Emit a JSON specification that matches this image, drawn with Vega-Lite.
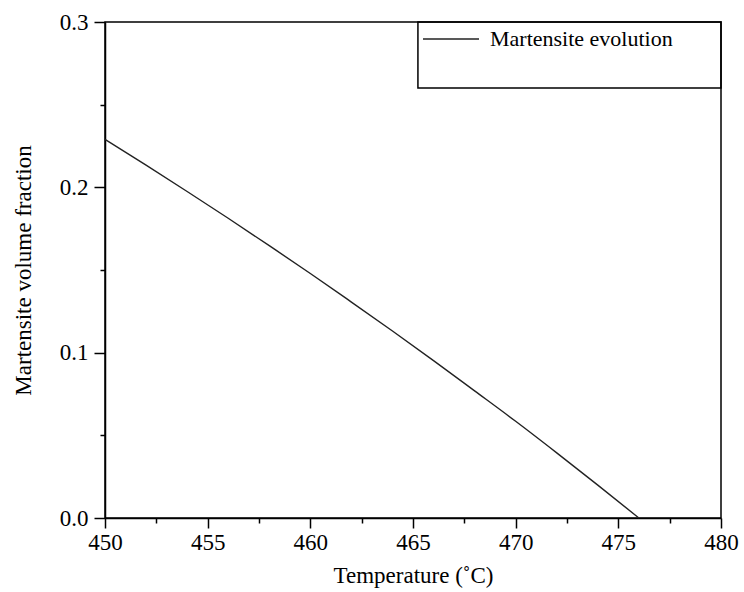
{
  "$schema": "https://vega.github.io/schema/vega-lite/v6.json",
  "width": 616,
  "height": 496,
  "autosize": {"type": "none"},
  "padding": {"left": 105, "top": 22, "right": 23, "bottom": 74},
  "background": "white",
  "config": {
    "view": {"stroke": "black", "strokeWidth": 1.5},
    "font": "Liberation Serif",
    "axis": {
      "grid": false,
      "ticks": true,
      "labelFlush": false,
      "domainColor": "black",
      "domainWidth": 1.5,
      "tickColor": "black",
      "tickWidth": 1.5,
      "labelColor": "black",
      "titleColor": "black",
      "labelFont": "Liberation Serif",
      "titleFont": "Liberation Serif",
      "labelFontSize": 23,
      "titleFontSize": 23,
      "titleFontWeight": "normal"
    }
  },
  "data": {
    "values": [
      {"T": 450, "f": 0.2290, "series": "Martensite evolution"},
      {"T": 452, "f": 0.2134, "series": "Martensite evolution"},
      {"T": 454, "f": 0.1975, "series": "Martensite evolution"},
      {"T": 456, "f": 0.1813, "series": "Martensite evolution"},
      {"T": 458, "f": 0.1647, "series": "Martensite evolution"},
      {"T": 460, "f": 0.1479, "series": "Martensite evolution"},
      {"T": 462, "f": 0.1306, "series": "Martensite evolution"},
      {"T": 464, "f": 0.1131, "series": "Martensite evolution"},
      {"T": 466, "f": 0.0952, "series": "Martensite evolution"},
      {"T": 468, "f": 0.0769, "series": "Martensite evolution"},
      {"T": 470, "f": 0.0585, "series": "Martensite evolution"},
      {"T": 472, "f": 0.0394, "series": "Martensite evolution"},
      {"T": 474, "f": 0.0199, "series": "Martensite evolution"},
      {"T": 476, "f": 0.0, "series": "Martensite evolution"}
    ]
  },
  "layer": [
    {
      "mark": {"type": "line", "strokeWidth": 1.4, "interpolate": "monotone"},
      "encoding": {
        "x": {
          "field": "T", "type": "quantitative",
          "scale": {"domain": [450, 480], "nice": false, "zero": false},
          "axis": {
            "orient": "bottom",
            "values": [450, 455, 460, 465, 470, 475, 480],
            "tickSize": 10, "labelFont": "Liberation Serif",
            "title": "Temperature (˚C)", "labelPadding": 3, "titlePadding": 10
          }
        },
        "y": {
          "field": "f", "type": "quantitative",
          "scale": {"domain": [0, 0.3], "nice": false},
          "axis": {
            "orient": "left",
            "values": [0, 0.1, 0.2, 0.3],
            "format": ".1f",
            "tickSize": 11, "labelFont": "Liberation Serif",
            "title": "Martensite volume fraction", "labelPadding": 6, "titlePadding": 24
          }
        },
        "color": {
          "field": "series", "type": "nominal",
          "scale": {"range": ["#222222"]},
          "legend": {
            "orient": "none", "legendX": 317, "legendY": 6,
            "title": null, "padding": 0, "clipHeight": 22,
            "symbolType": "stroke", "symbolSize": 3136, "symbolStrokeWidth": 1.4,
            "labelFont": "Liberation Serif", "labelFontSize": 22, "labelColor": "black",
            "labelOffset": 10, "labelLimit": 500
          }
        }
      }
    },
    {
      "mark": {"type": "line", "strokeOpacity": 0},
      "encoding": {
        "x": {
          "field": "T", "type": "quantitative",
          "axis": {"orient": "bottom", "values": [452.5, 457.5, 462.5, 467.5, 472.5, 477.5], "labels": false, "title": null, "domain": false, "tickSize": 5}
        },
        "y": {
          "field": "f", "type": "quantitative",
          "axis": {"orient": "left", "values": [0.05, 0.15, 0.25], "labels": false, "title": null, "domain": false, "tickSize": 5}
        }
      }
    },
    {
      "data": {"values": [{"frame": "legend box"}]},
      "mark": {"type": "rect", "fill": null, "fillOpacity": 0, "stroke": "black", "strokeWidth": 1.5},
      "encoding": {
        "x": {"datum": 465.24, "type": "quantitative", "axis": null},
        "x2": {"datum": 480},
        "y": {"datum": 0.3, "type": "quantitative", "axis": null},
        "y2": {"datum": 0.2601}
      }
    }
  ],
  "resolve": {"axis": {"x": "independent", "y": "independent"}}
}
